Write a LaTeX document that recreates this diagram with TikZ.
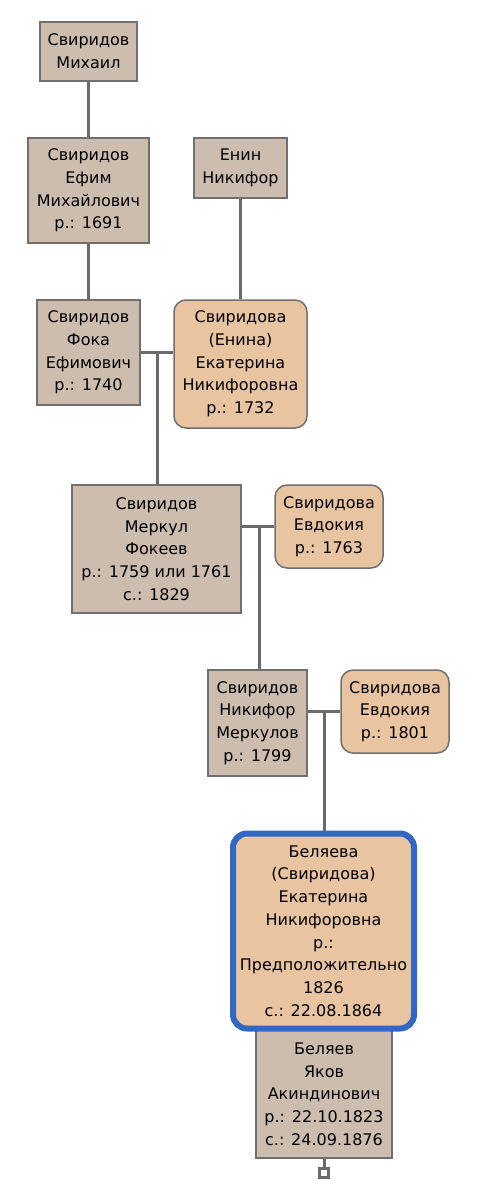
\documentclass[tikz,border=0pt]{standalone}
\usepackage{fontspec}
\setmainfont{DejaVu Sans}
\definecolor{malefill}{HTML}{CDBDAE}
\definecolor{femalefill}{HTML}{E8C4A0}
\definecolor{boxgray}{HTML}{707070}
\definecolor{linkgray}{HTML}{6A6A6A}
\definecolor{focusblue}{HTML}{3068C4}
\tikzset{
	person/.style={draw=boxgray, line width=1.5pt, align=center, inner sep=0pt,
		font=\fontsize{16}{22.7}\selectfont},
	male/.style={person, fill=malefill},
	female/.style={person, fill=femalefill, rounded corners=12pt},
	focus/.style={female, draw=focusblue, line width=6pt, rounded corners=14pt},
	link/.style={draw=linkgray, line width=3pt},
}
\begin{document}
\begin{tikzpicture}[x=1pt, y=-1pt]
	\useasboundingbox (0,0) rectangle (488,1200);

	\node[male, minimum width=97pt, minimum height=59pt] (mikhail) at (88.5,51.5) {Свиридов\\Михаил};
	\node[male, minimum width=121pt, minimum height=105pt] (efim) at (88.5,190.5) {Свиридов\\Ефим\\Михайлович\\р.: 1691};
	\node[male, minimum width=93pt, minimum height=60pt] (enin) at (240.5,168) {Енин\\Никифор};
	\node[male, minimum width=103pt, minimum height=105pt] (foka) at (88.5,352.5) {Свиридов\\Фока\\Ефимович\\р.: 1740};
	\node[female, minimum width=133pt, minimum height=128pt] (ekaterina) at (240.5,364) {Свиридова\\(Енина)\\Екатерина\\Никифоровна\\р.: 1732};
	\node[male, minimum width=169pt, minimum height=128pt] (merkul) at (156.5,549) {Свиридов\\Меркул\\Фокеев\\р.: 1759 или 1761\\с.: 1829};
	\node[female, minimum width=108pt, minimum height=83pt] (evdokiaA) at (329,526.5) {Свиридова\\Евдокия\\р.: 1763};
	\node[male, minimum width=99pt, minimum height=106pt] (nikifor) at (257.5,723) {Свиридов\\Никифор\\Меркулов\\р.: 1799};
	\node[female, minimum width=108pt, minimum height=83pt] (evdokiaB) at (395,711.5) {Свиридова\\Евдокия\\р.: 1801};
	\node[male, minimum width=136pt, minimum height=128pt] (yakov) at (324,1094) {Беляев\\Яков\\Акиндинович\\р.: 22.10.1823\\с.: 24.09.1876};
	\node[focus, minimum width=181pt, minimum height=195pt] (belyaeva) at (323.5,931) {Беляева\\(Свиридова)\\Екатерина\\Никифоровна\\р.:\\Предположительно\\1826\\с.: 22.08.1864};
	\node[draw=linkgray, line width=2.5pt, fill=white, minimum size=9pt, inner sep=0pt] (more) at (324,1173) {};

	\draw[link] (mikhail) -- (efim);
	\draw[link] (efim) -- (foka);
	\draw[link] (enin) -- (ekaterina);

	\draw[link] (foka.east) -- (foka.east -| ekaterina.west);
	\coordinate (famA) at (157,352.5);
	\draw[link] (famA) -- (famA |- merkul.north);

	\draw[link] (merkul.east |- evdokiaA.west) -- (evdokiaA.west);
	\coordinate (famB) at (259,526.5);
	\draw[link] (famB) -- (famB |- nikifor.north);

	\draw[link] (nikifor.east |- evdokiaB.west) -- (evdokiaB.west);
	\coordinate (famC) at (324,711.5);
	\draw[link] (famC) -- (famC |- belyaeva.north);

	\draw[link] (yakov.south) -- (more.north);
\end{tikzpicture}
\end{document}
